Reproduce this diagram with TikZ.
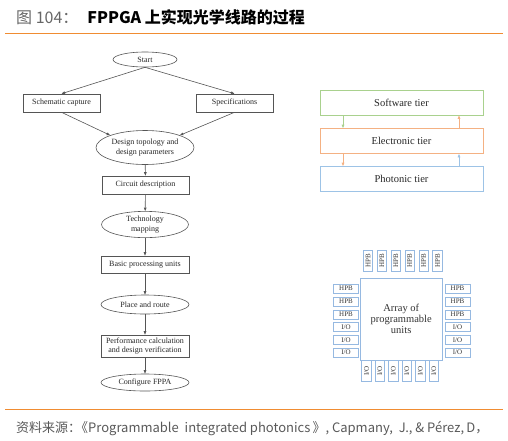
\documentclass[tikz,border=0pt]{standalone}
\usepackage{fontspec}
\setmainfont{Liberation Serif}
\newfontfamily\cjk{Noto Sans CJK SC}
\usetikzlibrary{arrows.meta,shapes.geometric,positioning}
\definecolor{ruleorange}{RGB}{240,140,50}
\definecolor{flowgray}{RGB}{85,85,85}
\definecolor{tiergreen}{RGB}{169,209,142}
\definecolor{tierorange}{RGB}{244,177,131}
\definecolor{tierblue}{RGB}{157,195,230}
\definecolor{pinblue}{RGB}{150,185,225}
\begin{document}
\begin{tikzpicture}[x=1pt,y=-1pt,
	flow/.style={draw=flowgray, line width=0.6pt, inner sep=1pt, text=black!85, align=center, font=\fontsize{8}{9.3}\selectfont},
	flowbox/.style={flow, rectangle, minimum width=#1},
	oval/.style={flow, ellipse, minimum width=#1},
	link/.style={draw=flowgray, line width=0.6pt, -{Triangle[length=3.5pt,width=2.6pt]}},
	tier/.style={draw=#1, line width=0.7pt, rectangle, minimum width=163pt, minimum height=25pt, font=\fontsize{10.5}{12}\selectfont, text=black!85},
	tierlink/.style={draw=#1, line width=0.7pt, -{Triangle[length=3.5pt,width=2.6pt]}},
	pinbox/.style={draw=pinblue, line width=0.6pt, rectangle, inner sep=0pt, font=\fontsize{7}{8}\selectfont, text=black!80}]
	\useasboundingbox (0,0) rectangle (508,440);
	% title and rules
	\node[anchor=west, inner sep=0pt, font=\cjk\fontsize{16}{19}\selectfont] (title) at (16,17.5)
		{\textcolor{black!60}{图 104：}\hspace{9pt}\textbf{FPPGA 上实现光学线路的过程}};
	\draw[ruleorange, line width=1pt] (5,33) -- (503,33);
	\draw[ruleorange, line width=1pt] (5,409) -- (503,409);
	\node[anchor=west, inner sep=0pt, text=black!65, font=\cjk\fontsize{13}{15}\selectfont] (source) at (16,428)
		{资料来源：\hspace{-6pt}《Programmable\ \ integrated photonics\,》, Capmany,\ \ J., \& Pérez,\,D，};
	% design flow
	\node[oval=64pt, minimum height=15pt] (start) at (145,59.5) {Start};
	\node[flowbox=77pt, minimum height=18pt] (schem) at (61.5,103) {Schematic capture};
	\node[flowbox=77pt, minimum height=18pt] (spec) at (234.5,103) {Specifications};
	\node[oval=98pt, minimum height=34pt] (topo) at (145,147.5) {Design topology and\\design parameters};
	\node[flowbox=87pt, minimum height=18pt] (circ) at (145.5,185) {Circuit description};
	\node[oval=87pt, minimum height=21pt] (techmap) at (145,224.5) {Technology\\mapping};
	\node[flowbox=88pt, minimum height=17pt] (bpu) at (145,264.5) {Basic processing units};
	\node[oval=88pt, minimum height=19pt] (place) at (145,304.5) {Place and route};
	\node[flowbox=88pt, minimum height=22pt] (perf) at (145,346) {Performance calculation\\and design verification};
	\node[oval=88pt, minimum height=17pt] (config) at (145,382.5) {Configure FPPA};
	\draw[link] (start.south) -- (schem.north);
	\draw[link] (start.south) -- (spec.north);
	\draw[link] (schem.south) -- (topo.north west);
	\draw[link] (spec.south) -- (topo.north east);
	\draw[link] (topo) -- (circ);
	\draw[link] (circ) -- (techmap);
	\draw[link] (techmap) -- (bpu);
	\draw[link] (bpu) -- (place);
	\draw[link] (place) -- (perf);
	\draw[link] (perf) -- (config);
	% tiers
	\node[tier=tiergreen] (sw) at (401.5,102.5) {Software tier};
	\node[tier=tierorange] (el) at (401.5,141) {Electronic tier};
	\node[tier=tierblue] (ph) at (401.5,179) {Photonic tier};
	\draw[tierlink=tiergreen] ([xshift=-58.5pt]sw.south) -- ([xshift=-58.5pt]el.north);
	\draw[tierlink=tierorange] ([xshift=57.5pt]el.north) -- ([xshift=57.5pt]sw.south);
	\draw[tierlink=tierorange] ([xshift=-58.5pt]el.south) -- ([xshift=-58.5pt]ph.north);
	\draw[tierlink=tierblue] ([xshift=57.5pt]ph.north) -- ([xshift=57.5pt]el.south);
	% programmable array
	\node[pinbox, minimum width=82pt, minimum height=82pt, align=center, font=\fontsize{10.5}{11.3}\selectfont] (array) at (401.2,318.8)
		{Array of\\programmable\\units};
	\foreach \i in {0,...,5} {
		\node[pinbox, rotate=90, minimum width=21pt, minimum height=9.5pt] (top\i) at (368+13.9*\i,260.5) {HPB};
		\node[pinbox, rotate=90, minimum width=21pt, minimum height=9.5pt] (bot\i) at (366.5+13.45*\i,371) {I/O};
	}
	\foreach \lab [count=\i from 0] in {HPB,HPB,HPB,I/O,I/O,I/O} {
		\node[pinbox, minimum width=25.5pt, minimum height=9pt] (left\i) at (346,288.7+12.8*\i) {\lab};
		\node[pinbox, minimum width=25pt, minimum height=9pt] (right\i) at (457.5,288.7+12.8*\i) {\lab};
	}
\end{tikzpicture}
\end{document}
